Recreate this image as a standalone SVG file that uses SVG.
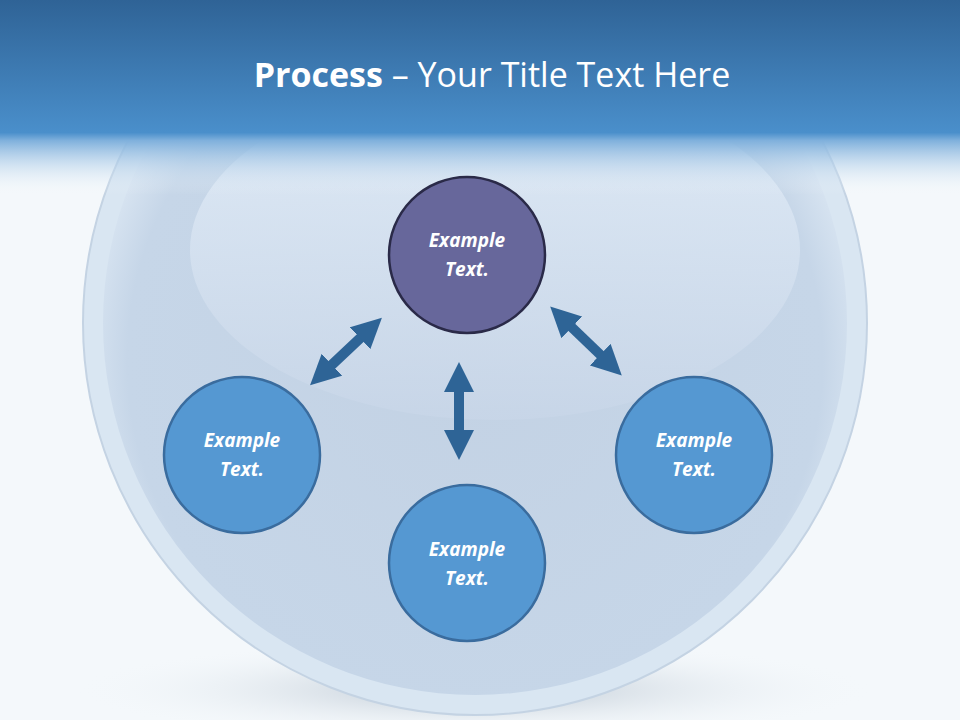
<svg xmlns="http://www.w3.org/2000/svg" width="960" height="720" viewBox="0 0 960 720">
<defs>
<linearGradient id="hdr" x1="0" y1="0" x2="0" y2="1">
<stop offset="0" stop-color="#2f6396"/><stop offset="0.68" stop-color="#4a8fcb"/><stop offset="0.72" stop-color="#7fb0dc"/><stop offset="1" stop-color="#f4f8fb" stop-opacity="0"/>
</linearGradient>
<radialGradient id="sph" cx="0.5" cy="0.55" r="0.55">
<stop offset="0" stop-color="#c3d2e4"/><stop offset="0.85" stop-color="#c6d6e8"/><stop offset="1" stop-color="#dfeaf5"/>
</radialGradient>
<radialGradient id="shadow" cx="0.5" cy="0.5" r="0.5">
<stop offset="0" stop-color="#b8c4d0"/><stop offset="1" stop-color="#f4f8fb" stop-opacity="0"/>
</radialGradient>
<linearGradient id="hl" x1="0" y1="0" x2="0" y2="1">
<stop offset="0" stop-color="#e6f0fa"/><stop offset="1" stop-color="#c8d6e8"/>
</linearGradient>
<marker id="ah" viewBox="0 0 10 10" refX="5" refY="5" markerWidth="3" markerHeight="3" orient="auto-start-reverse">
<path d="M0,0 L10,5 L0,10 z" fill="#2e6496"/>
</marker>
<style>
.node text{font-family:"Open Sans","Liberation Sans",sans-serif;font-weight:bold;font-style:italic;font-size:19px;fill:#fff;text-anchor:middle}
.blue{fill:#5598d2;stroke:#3a6c9e;stroke-width:2.5}
.purple{fill:#67679b;stroke:#2a2a48;stroke-width:2.5}
.arr{stroke:#2e6496;stroke-width:10;fill:none;marker-start:url(#ah);marker-end:url(#ah)}
</style>
</defs>
<rect width="960" height="720" fill="#f4f8fb"/>
<ellipse cx="475" cy="690" rx="400" ry="50" fill="url(#shadow)"/>
<circle cx="475" cy="323" r="392" fill="#d9e6f2" stroke="#c4d3e3" stroke-width="2"/>
<circle cx="475" cy="323" r="372" fill="url(#sph)"/>
<ellipse cx="495" cy="250" rx="305" ry="170" fill="url(#hl)" opacity="0.8"/>
<rect width="960" height="195" fill="url(#hdr)"/>
<text x="492" y="87" font-family="Open Sans,Liberation Sans,sans-serif" font-size="34" fill="#fff" text-anchor="middle"><tspan font-weight="bold">Process</tspan> – Your Title Text Here</text>
<g id="connectors">
<line class="arr" x1="371" y1="328" x2="321" y2="375"/>
<line class="arr" x1="561" y1="317" x2="611" y2="365"/>
<line class="arr" x1="459" y1="377" x2="459" y2="445"/>
</g>
<g id="n1" class="node"><circle class="purple" cx="467" cy="255" r="78"/><text x="467" y="247">Example</text><text x="467" y="276">Text.</text></g>
<g id="n2" class="node"><circle class="blue" cx="242" cy="455" r="78"/><text x="242" y="447">Example</text><text x="242" y="476">Text.</text></g>
<g id="n3" class="node"><circle class="blue" cx="467" cy="563" r="78"/><text x="467" y="556">Example</text><text x="467" y="585">Text.</text></g>
<g id="n4" class="node"><circle class="blue" cx="694" cy="455" r="78"/><text x="694" y="447">Example</text><text x="694" y="476">Text.</text></g>
</svg>
